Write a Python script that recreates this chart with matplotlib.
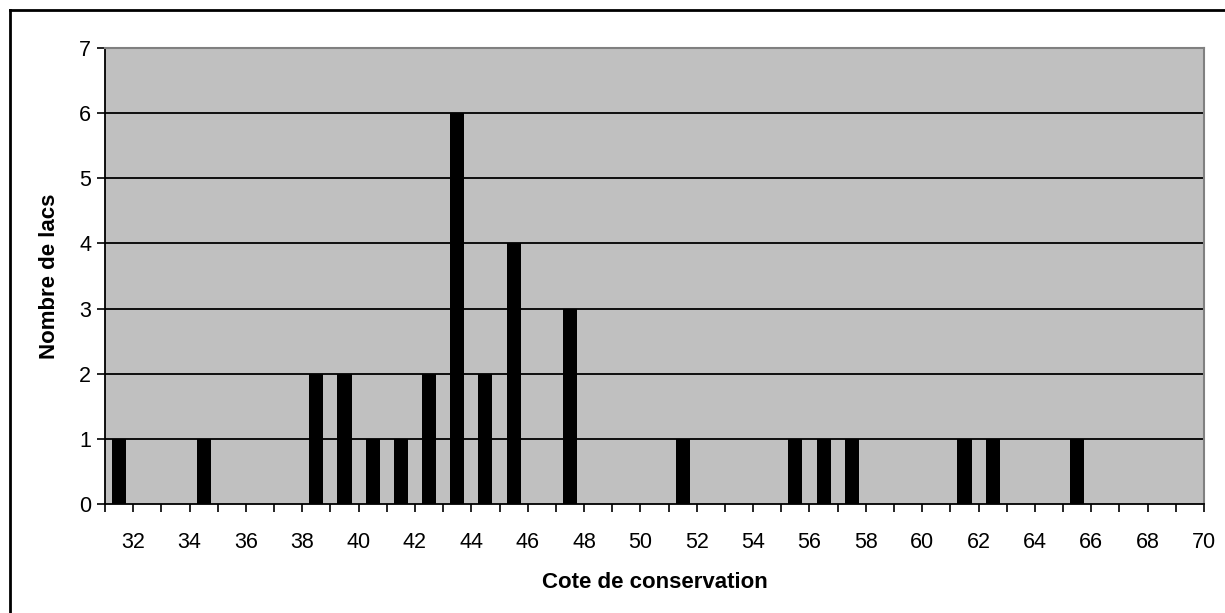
import matplotlib
matplotlib.use("Agg")
import matplotlib.pyplot as plt
from matplotlib.lines import Line2D

# Data
categories = list(range(31, 70))  # bin start values
counts = [1, 0, 0, 1, 0, 0, 0, 2, 2, 1, 1, 2, 6, 2, 4, 0, 3, 0, 0, 0,
          1, 0, 0, 0, 1, 1, 1, 0, 0, 0, 1, 1, 0, 0, 1, 0, 0, 0, 0]
xtick_labels = list(range(32, 71, 2))
yticks = list(range(0, 8))
xlabel = "Cote de conservation"
ylabel = "Nombre de lacs"

plt.rcParams['font.family'] = ['Liberation Sans', 'DejaVu Sans']

fig = plt.figure(figsize=(12.25, 6.13), dpi=100)
ax = fig.add_axes([105/1225, 1-504/613, (1204-105)/1225, (504-48)/613])
ax.set_facecolor('#C0C0C0')

xs = [c + 0.5 for c in categories]
ax.bar(xs, counts, width=0.5, color='black', zorder=3)

ax.set_xlim(31, 70)
ax.set_ylim(0, 7)
ax.set_yticks(yticks)
for y in yticks[1:-1]:
    ax.axhline(y, color='black', lw=1.3, zorder=2)

ax.set_xticks(list(range(31, 71)), minor=False)
ax.set_xticklabels([str(v) if v in xtick_labels else '' for v in range(31, 71)])
ax.tick_params(axis='both', direction='out', length=6, width=1.2, color='black',
               labelsize=15.5, pad=4)
ax.tick_params(axis='x', pad=14)

for s in ['top', 'right']:
    ax.spines[s].set_color('#808080')
    ax.spines[s].set_linewidth(1.5)
for s in ['left', 'bottom']:
    ax.spines[s].set_color('black')
    ax.spines[s].set_linewidth(1.3)

ax.set_xlabel(xlabel, fontsize=16, fontweight='bold', labelpad=14)
ax.set_ylabel(ylabel, fontsize=16, fontweight='bold', labelpad=14)

# outer chart border (left and top visible)
fig.add_artist(Line2D([10/1225, 10/1225], [0, 1-10/613], transform=fig.transFigure,
                      color='black', lw=2))
fig.add_artist(Line2D([10/1225, 1], [1-10/613, 1-10/613], transform=fig.transFigure,
                      color='black', lw=2))

fig.savefig('out.png', dpi=100)
